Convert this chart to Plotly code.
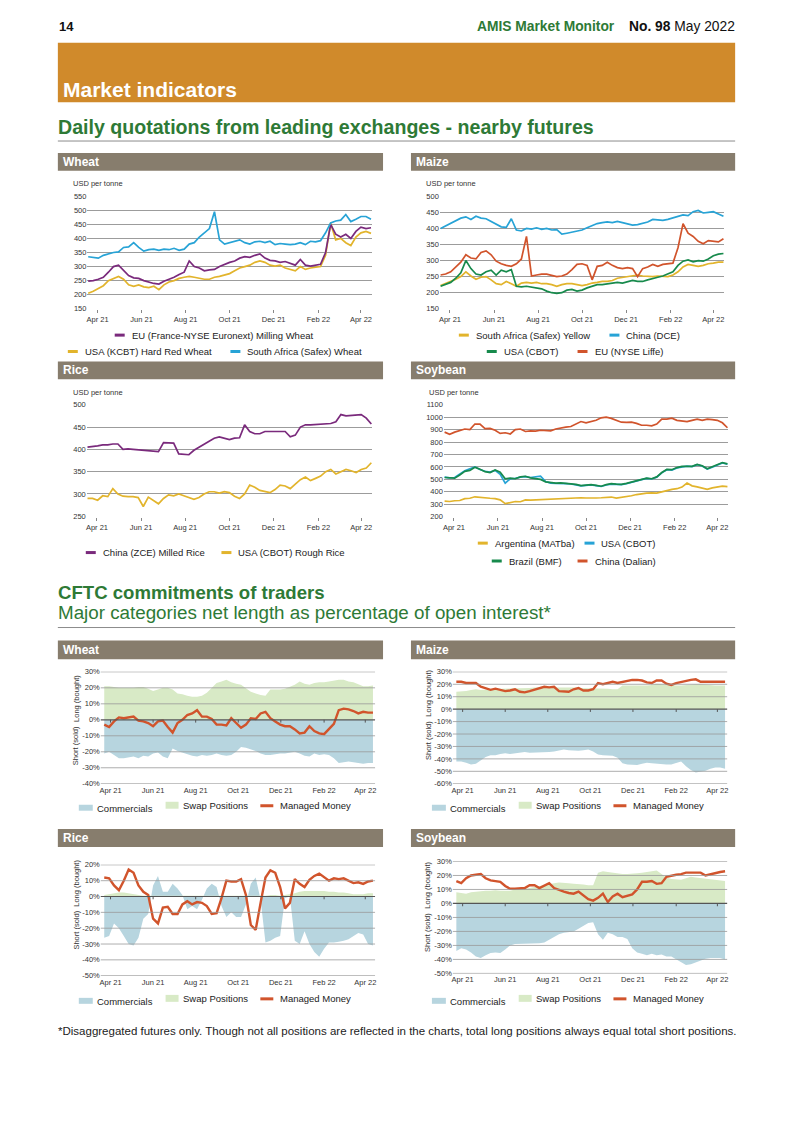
import plotly.graph_objects as go
import pandas as pd

W, H = 793, 1122
FONT = "Liberation Sans"


def fx(x):
    return x / W


def fy(y):
    return 1 - y / H


# ---------------- colours ----------------
PURPLE = "#7A2A7C"
GOLD = "#E2B42C"
BLUE = "#27A3D6"
GREEN = "#178A4C"
RED = "#D1542C"
COMM = "#B7D5DF"
SWAP = "#D8EAC6"
HDR = "#877D6D"
BAND = "#D08A2B"
TGREEN = "#2E7A36"

# ---------------- dates / ticks ----------------
daily_dates = pd.date_range("2021-04-02", periods=57, freq="7D")
cftc_dates = pd.date_range("2021-04-06", periods=56, freq="7D")
tick_dates = ["2021-04-15", "2021-06-15", "2021-08-15", "2021-10-15",
              "2021-12-15", "2022-02-15", "2022-04-15"]
tick_labels = ["Apr 21", "Jun 21", "Aug 21", "Oct 21", "Dec 21", "Feb 22", "Apr 22"]

# ---------------- daily quotations (USD per tonne, weekly readings) ----------------
wheat_eu = [248, 250, 255, 262, 280, 300, 305, 285, 268, 260, 258, 250, 245, 240, 238, 248, 255, 262, 272, 280,
            320, 300, 295, 285, 288, 290, 300, 308, 315, 320, 330, 335, 333, 340, 345, 330, 322, 320, 315, 318,
            312, 305, 325, 305, 302, 305, 308, 350, 450, 415, 405, 415, 400, 425, 440, 435, 438]
wheat_usa = [205, 212, 222, 232, 250, 258, 265, 255, 235, 230, 235, 228, 225, 230, 218, 235, 245, 250, 258, 262,
             265, 262, 258, 255, 255, 262, 265, 270, 275, 285, 295, 300, 305, 315, 320, 315, 305, 302, 305, 295,
             290, 285, 300, 290, 295, 298, 300, 340, 455, 395, 400, 385, 375, 405, 420, 425, 418]
wheat_saf = [335, 333, 330, 340, 345, 350, 352, 368, 370, 385, 368, 355, 360, 362, 358, 362, 360, 365, 358, 362,
             380, 385, 405, 420, 435, 495, 395, 380, 385, 390, 395, 385, 380, 388, 390, 385, 390, 378, 382, 380,
             378, 380, 385, 378, 390, 388, 392, 420, 455, 462, 465, 485, 460, 468, 478, 478, 468]

maize_saf = [222, 228, 235, 242, 250, 265, 252, 242, 248, 250, 240, 228, 225, 235, 228, 220, 230, 232, 230, 232,
             228, 228, 225, 220, 225, 228, 228, 225, 222, 225, 230, 232, 235, 235, 238, 245, 248, 250, 252, 255,
             252, 250, 250, 252, 250, 250, 255, 265, 280, 288, 285, 282, 285, 290, 292, 295, 295]
maize_dce = [400, 408, 418, 425, 432, 436, 428, 438, 432, 430, 422, 415, 405, 403, 430, 395, 392, 400, 398, 402,
             397, 400, 395, 396, 382, 385, 388, 390, 395, 402, 408, 415, 418, 420, 418, 422, 418, 415, 410, 412,
             415, 420, 428, 426, 425, 428, 432, 438, 442, 440, 452, 456, 448, 450, 452, 445, 438]
maize_usa = [220, 225, 232, 245, 262, 300, 275, 258, 255, 265, 270, 255, 270, 265, 272, 220, 218, 220, 218, 215,
             212, 205, 200, 198, 200, 208, 210, 205, 208, 215, 220, 225, 225, 228, 230, 232, 230, 235, 238, 235,
             235, 240, 245, 248, 252, 258, 265, 285, 298, 302, 296, 300, 298, 305, 315, 320, 322]
maize_eu = [255, 258, 265, 280, 295, 318, 308, 305, 325, 330, 318, 298, 290, 285, 282, 290, 305, 375, 252, 255,
            258, 258, 255, 250, 252, 258, 272, 288, 290, 285, 240, 282, 285, 295, 285, 278, 275, 278, 275, 250,
            275, 280, 288, 282, 288, 290, 292, 340, 415, 385, 375, 360, 352, 362, 360, 358, 368]

rice_zce = [405, 406, 408, 410, 410, 412, 412, 400, 401, 400, 399, 397, 396, 395, 395, 415, 415, 414, 390, 389,
            388, 398, 405, 412, 418, 425, 428, 425, 422, 425, 426, 455, 440, 435, 435, 440, 440, 441, 440, 440,
            428, 432, 450, 455, 455, 456, 457, 458, 458, 462, 478, 475, 476, 478, 478, 470, 457]
rice_usa = [290, 290, 286, 296, 294, 312, 300, 295, 294, 294, 292, 272, 293, 285, 278, 290, 298, 296, 300, 296,
            292, 288, 292, 300, 305, 305, 302, 305, 303, 295, 290, 300, 320, 315, 308, 305, 303, 310, 320, 318,
            312, 322, 332, 338, 330, 335, 340, 350, 355, 345, 350, 355, 352, 348, 355, 358, 370]

soy_arg = [325, 322, 328, 330, 345, 348, 360, 358, 350, 348, 345, 335, 305, 312, 322, 320, 335, 333, 335, 338,
           340, 342, 345, 345, 348, 348, 350, 352, 350, 348, 350, 352, 355, 358, 350, 355, 360, 368, 378, 385,
           390, 392, 390, 400, 412, 420, 425, 438, 470, 448, 440, 428, 420, 432, 438, 445, 442]
soy_usa = [518, 512, 515, 540, 570, 585, 600, 580, 565, 558, 572, 540, 470, 505, 508, 518, 522, 515, 522, 525,
           482, 470, 468, 470, 466, 463, 458, 448, 452, 455, 450, 443, 455, 462, 460, 458, 465, 478, 488, 498,
           508, 503, 518, 552, 578, 575, 592, 602, 606, 603, 618, 608, 583, 598, 612, 632, 622]
soy_bra = [515, 515, 510, 535, 565, 572, 598, 582, 562, 555, 575, 558, 505, 510, 505, 520, 525, 512, 505, 500,
           480, 472, 470, 472, 468, 465, 460, 450, 455, 458, 452, 445, 458, 465, 462, 460, 468, 480, 490, 500,
           510, 505, 520, 555, 580, 578, 595, 605, 608, 605, 620, 610, 585, 600, 615, 635, 625]
soy_chn = [880, 862, 880, 895, 905, 900, 945, 945, 908, 910, 895, 870, 875, 865, 900, 905, 885, 890, 888, 895,
           895, 890, 905, 915, 920, 925, 945, 965, 955, 965, 975, 995, 1000, 990, 975, 960, 958, 960, 950, 935,
           935, 930, 945, 985, 985, 992, 975, 970, 965, 975, 985, 975, 985, 980, 975, 955, 915]

# ---------------- CFTC net length (% of open interest, weekly) ----------------
wheat_comm = [-21, -20, -22, -24, -24, -23.5, -23, -24, -22.5, -23, -21, -20.5, -23, -24, -18, -19.5, -20.5, -21.5,
              -22.5, -23, -22, -22.5, -22, -21, -22, -22.5, -22, -20, -17, -17.5, -18.5, -19.5, -21, -22, -22,
              -21.5, -21, -21, -20.5, -20, -21, -22.5, -23, -21, -22, -21.5, -22, -24, -27, -26.5, -26, -26.5,
              -27, -27.5, -27, -27]
wheat_swap = [21, 21, 20.5, 20, 20, 20, 20, 20.5, 20.5, 19.5, 18, 19, 20, 20, 19, 16.5, 16, 15, 14.5, 14.5, 15, 17,
              20, 23, 24, 25, 23.5, 22.5, 22, 20, 17.5, 16.5, 15.5, 15, 19, 19, 19, 19.5, 20.5, 22, 24, 22.5, 22,
              23, 23.5, 23.5, 24, 24.5, 25, 25, 24, 23.5, 22, 21, 21, 21.5]
wheat_mm = [-3, -4.5, -1, 1.5, 1, 1.5, 2, -0.5, -1, -2, -4, -1, -0.5, -4.5, -8, -2, 0, 3, 4, 6, 2, 2, 0.5, -3, -3,
            -3.5, 1, -2, -5, -3, 1, 0.5, 4, 5, 1, -1, -3, -4, -4, -6, -8.5, -8, -4, -7, -8.5, -9, -5.5, -2.5, 6, 7,
            6.5, 5.5, 4, 5, 4.5, 4.5]

maize_comm = [-42, -42, -43, -44.5, -44, -41, -38.5, -37, -37, -36, -35.5, -36, -35.5, -35, -34.5, -35, -35, -35,
              -35, -34.5, -34, -33, -32.5, -33, -33.5, -33.5, -33, -32.5, -34, -36.5, -37, -37, -37.5, -39, -43.5,
              -44.5, -45, -45, -44, -43, -43.5, -44, -44, -44.5, -44.5, -43, -42, -46, -49, -51, -50.5, -49.5, -48,
              -47, -47, -48]
maize_swap = [14, 14, 14.5, 15.5, 16, 15.5, 15.5, 15.5, 16, 16.5, 16.5, 17, 16.5, 16.5, 17, 17, 17.5, 17.5, 18, 18,
              18, 18, 18, 17.5, 17.5, 17, 17, 17, 17, 16.5, 16.5, 16.5, 16, 16, 19, 19, 19, 18.5, 18.5, 19, 19.5,
              20.5, 20, 19.5, 19, 19, 19, 19.5, 20, 20, 20, 19.5, 19.5, 19, 19, 19]
maize_mm = [22, 22, 21, 21, 21, 18, 17, 15.5, 16.5, 15.5, 14.5, 15, 16, 14, 13.5, 14.5, 15.5, 16.5, 18, 17.5, 18,
            14.5, 14, 14, 16, 17, 15, 15, 16, 21, 20, 21, 22, 21, 22, 22.5, 23.5, 23.5, 23, 21.5, 21, 23, 23, 20.5,
            19.5, 21, 22, 23, 23.5, 24, 22, 22, 22, 22, 22, 22]

rice_comm = [-26, -25, -17, -20, -25, -30, -31, -26, -14, -11, 7, 13, 3, 3, 8, 5, 1, -8, -6, -8, -2, 5, 8, 6, -6,
             -13, -10, -13, -13, -5, 8, 12, -2, -29, -28, -26, -25, -1, 0, -28, -30, -22, -30, -35, -38, -33, -29,
             -29, -28.5, -28, -27, -25, -23, -24, -30, -31]
rice_swap = [1, 1.5, 2, 2.5, 2.5, 2, 1.5, 1, 0.5, 0.5,
             0.5, 0.5, 0.5, 0.5, 0.5, 0.5, 0.5, 0.5, 0.5, 0.5, 0.5, 0.5,
             0.5, 0.5, 0.5, 0.5, 0.5, 0.5, 0.5, 0.5, 0.5, 0.5, 0.5, 0.5,
             1, 1, 0.5, 1, 1.5, 2, 3, 3.5, 3.5, 3.5, 3.5, 3.5, 3, 3, 2.5, 2.5, 2, 1.5, 1.5, 1.5, 2, 2]
rice_mm = [12, 11.5, 7, 4, 10, 17, 15, 7, 3, 1, -14, -17, -7, -6.5, -11, -11, -5, -3, -5, -3.5, -4, -6, -11, -10.5,
           -1, 10, 9.5, 9.5, 11, 1, -18, -21, -4, 12, 16.5, 15, 6, -7.5, -4, 11, 8, 6, 10.5, 13, 14.5, 12, 10, 11.5,
           11, 11.5, 10, 8.5, 9, 8, 9.5, 10]

soy_comm = [-34, -32, -33, -35, -38, -39, -37, -35.5, -35, -35.5, -33, -30, -29, -29, -28.5, -29, -28.5, -28.5, -28,
            -26, -23.5, -22, -21, -20.5, -20, -18, -16, -14, -13.5, -22, -26, -21, -22, -24, -24, -25.5, -32, -35,
            -36, -37, -36, -37, -36.5, -38, -38, -40, -42.5, -44, -43.5, -42, -40.5, -39.5, -39, -39, -39, -40]
soy_swap = [8, 7.5, 7, 8, 8.5, 9, 9, 9, 9.5, 9, 9, 9, 10, 10, 10.5, 11, 12, 12.5, 13, 14, 14.5, 15, 15, 14.5, 14, 14,
            13.5, 13, 13, 22, 23, 22.5, 22, 21, 21, 21, 21, 21.5, 22, 22.5, 23, 23.5, 21, 18.5, 17.5, 17, 17, 18, 19,
            18.5, 18, 17.5, 17, 16.5, 16, 16]
soy_mm = [16, 14.5, 18, 20, 20.5, 21, 18, 16.5, 16, 15.5, 12.5, 10.5, 10.5, 11, 11, 13, 13, 11, 13, 14.5, 11, 9.5,
          8.5, 7.5, 7, 8.5, 5.5, 3, 2, 4, 7, 1, 5, 7, 4.5, 5.5, 6.5, 10, 15.5, 15.5, 16, 14, 14.5, 19, 20, 20.5, 21,
          22, 22, 22, 22, 20, 21, 22, 22.5, 23]

# ---------------- panel definitions (layout only) ----------------
daily_panels = [
    dict(title="Wheat", hdr=(57, 383, 150, 168), xd=(86.7, 371.7), yd=(193.3, 307.3), yr=(150, 550), dt=50,
         unit=(71, 181),
         series=[("USA (KCBT) Hard Red Wheat", wheat_usa, GOLD), ("EU (France-NYSE Euronext) Milling Wheat", wheat_eu, PURPLE),
                 ("South Africa (Safex) Wheat", wheat_saf, BLUE)],
         legend=[("EU (France-NYSE Euronext) Milling Wheat", PURPLE, 114, 333.5),
                 ("USA (KCBT) Hard Red Wheat", GOLD, 67, 350),
                 ("South Africa (Safex) Wheat", BLUE, 230, 350)]),
    dict(title="Maize", hdr=(411, 736, 150, 168), xd=(440, 725), yd=(193.3, 307.3), yr=(150, 500), dt=50,
         unit=(425, 181),
         series=[("South Africa (Safex) Yellow", maize_saf, GOLD), ("China (DCE)", maize_dce, BLUE),
                 ("USA (CBOT)", maize_usa, GREEN), ("EU (NYSE Liffe)", maize_eu, RED)],
         legend=[("South Africa (Safex) Yellow", GOLD, 459, 333.5), ("China (DCE)", BLUE, 610, 333.5),
                 ("USA (CBOT)", GREEN, 487, 350), ("EU (NYSE Liffe)", RED, 578, 350)]),
    dict(title="Rice", hdr=(57, 383, 360, 378), xd=(86, 372), yd=(403.3, 516.3), yr=(250, 500), dt=50,
         unit=(71, 391),
         series=[("China (ZCE) Milled Rice", rice_zce, PURPLE), ("USA (CBOT) Rough Rice", rice_usa, GOLD)],
         legend=[("China (ZCE) Milled Rice", PURPLE, 85, 552.5), ("USA (CBOT) Rough Rice", GOLD, 221, 552.5)]),
    dict(title="Soybean", hdr=(411, 736, 360, 378), xd=(444, 729), yd=(403.3, 516.7), yr=(200, 1100), dt=100,
         unit=(428, 391),
         series=[("Argentina (MATba)", soy_arg, GOLD), ("USA (CBOT)", soy_usa, BLUE),
                 ("Brazil (BMF)", soy_bra, GREEN), ("China (Dalian)", soy_chn, RED)],
         legend=[("Argentina (MATba)", GOLD, 478, 543), ("USA (CBOT)", BLUE, 585, 543),
                 ("Brazil (BMF)", GREEN, 492, 561), ("China (Dalian)", RED, 578, 561)]),
]

cftc_panels = [
    dict(title="Wheat", hdr=(57, 383, 641, 660), xd=(100, 375), yd=(672.3, 785.7), yr=(-40, 30),
         data=(wheat_comm, wheat_swap, wheat_mm), ylab_x=70, leg_y=808, leg_x=78),
    dict(title="Maize", hdr=(411, 736, 641, 660), xd=(453, 728), yd=(672.3, 785.7), yr=(-60, 30),
         data=(maize_comm, maize_swap, maize_mm), ylab_x=423, leg_y=808, leg_x=432),
    dict(title="Rice", hdr=(57, 383, 831, 849), xd=(100, 375), yd=(866.7, 979), yr=(-50, 20),
         data=(rice_comm, rice_swap, rice_mm), ylab_x=70, leg_y=1002.5, leg_x=78),
    dict(title="Soybean", hdr=(411, 736, 831, 849), xd=(453, 728), yd=(863.3, 976.7), yr=(-50, 30),
         data=(soy_comm, soy_swap, soy_mm), ylab_x=422, leg_y=1002.5, leg_x=432),
]

fig = go.Figure()
shapes = []
annotations = []
layout_axes = {}


def rect(x0, y0, x1, y1, color, layer="below"):
    shapes.append(dict(type="rect", xref="paper", yref="paper", x0=fx(x0), x1=fx(x1), y0=fy(y1), y1=fy(y0),
                       fillcolor=color, line=dict(width=0), layer=layer))


def hline(x0, x1, y, color, width):
    shapes.append(dict(type="line", xref="paper", yref="paper", x0=fx(x0), x1=fx(x1), y0=fy(y), y1=fy(y),
                       line=dict(color=color, width=width)))


def text(x, y, s, size, color="#222", bold=False, xanchor="left", angle=0):
    annotations.append(dict(x=fx(x), y=fy(y), xref="paper", yref="paper",
                            text=f"<b>{s}</b>" if bold else s, showarrow=False, xanchor=xanchor,
                            yanchor="middle", textangle=angle, borderpad=0,
                            font=dict(size=size, color=color, family=FONT)))


# ---------------- page furniture ----------------
text(57, 23, "14", 13, "#111", bold=True)
text(617, 23, "AMIS Market Monitor", 13.8, TGREEN, bold=True, xanchor="right")
text(737, 23, "<b>No. 98</b> May 2022", 13.8, "#111", xanchor="right")
rect(57, 39, 736, 99, BAND)
text(61, 86, "Market indicators", 21, "white", bold=True)
text(56, 124, "Daily quotations from leading exchanges - nearby futures", 19.6, TGREEN, bold=True)
hline(57, 736, 138, "#8c8c8c", 1)
text(56, 593, "CFTC commitments of traders", 18.6, TGREEN, bold=True)
text(56, 613, "Major categories net length as percentage of open interest*", 18.8, TGREEN)
hline(57, 736, 628, "#8c8c8c", 1)
text(56, 1034, "*Disaggregated futures only. Though not all positions are reflected in the charts, "
               "total long positions always equal total short positions.", 11.5, "#222")

ax = 0
# ---------------- daily charts ----------------
for p in daily_panels:
    ax += 1
    xa, ya = f"x{ax}", f"y{ax}"
    x0h, x1h, y0h, y1h = p["hdr"]
    rect(x0h, y0h, x1h, y1h, HDR)
    text(x0h + 4, (y0h + y1h) / 2, p["title"], 12, "white", bold=True)
    text(p["unit"][0], p["unit"][1], "USD per tonne", 7.5, "#333")
    for name, vals, col in p["series"]:
        fig.add_trace(go.Scatter(x=daily_dates, y=vals, mode="lines", name=name, xaxis=xa, yaxis=ya,
                                 line=dict(color=col, width=1.7), showlegend=False))
    lo, hi = p["yr"]
    span = hi - lo
    ticks = list(range(lo, hi + 1, p["dt"]))
    layout_axes[f"xaxis{ax}"] = dict(domain=[fx(p["xd"][0]), fx(p["xd"][1])], anchor=ya,
                                     range=["2021-04-01", "2022-04-30"], tickmode="array",
                                     tickvals=tick_dates, ticktext=tick_labels, ticks="outside", ticklen=3,
                                     tickcolor="#888", tickwidth=0.8, showgrid=False, zeroline=False,
                                     showline=False, tickfont=dict(size=7.5, color="#333", family=FONT))
    layout_axes[f"yaxis{ax}"] = dict(domain=[fy(p["yd"][1]), fy(p["yd"][0])], anchor=xa,
                                     range=[lo - span * 0.003, hi + span * 0.003], tickmode="array",
                                     tickvals=ticks, ticktext=[str(t) for t in ticks], showgrid=True,
                                     gridcolor="#9c9c9c", gridwidth=0.8, zeroline=False, showline=False,
                                     ticks="", tickfont=dict(size=7.5, color="#333", family=FONT))
    for name, col, sx, sy in p["legend"]:
        shapes.append(dict(type="line", xref="paper", yref="paper", x0=fx(sx), x1=fx(sx + 10),
                           y0=fy(sy), y1=fy(sy), line=dict(color=col, width=3)))
        text(sx + 16, sy, name, 9.5, "#222")

# ---------------- CFTC charts ----------------
for p in cftc_panels:
    ax += 1
    xa, ya = f"x{ax}", f"y{ax}"
    x0h, x1h, y0h, y1h = p["hdr"]
    rect(x0h, y0h, x1h, y1h, HDR)
    text(x0h + 4, (y0h + y1h) / 2, p["title"], 12, "white", bold=True)
    comm, swap, mm = p["data"]
    fig.add_trace(go.Scatter(x=cftc_dates, y=comm, mode="lines", fill="tozeroy", fillcolor=COMM,
                             line=dict(width=0, color=COMM), name="Commercials", xaxis=xa, yaxis=ya,
                             showlegend=False))
    fig.add_trace(go.Scatter(x=cftc_dates, y=swap, mode="lines", fill="tozeroy", fillcolor=SWAP,
                             line=dict(width=0, color=SWAP), name="Swap Positions", xaxis=xa, yaxis=ya,
                             showlegend=False))
    fig.add_trace(go.Scatter(x=cftc_dates, y=mm, mode="lines", line=dict(color=RED, width=2.4),
                             name="Managed Money", xaxis=xa, yaxis=ya, showlegend=False))
    lo, hi = p["yr"]
    span = hi - lo
    ticks = list(range(lo, hi + 1, 10))
    layout_axes[f"xaxis{ax}"] = dict(domain=[fx(p["xd"][0]), fx(p["xd"][1])], anchor=ya,
                                     range=["2021-04-01", "2022-04-29"], tickmode="array",
                                     tickvals=tick_dates, ticktext=tick_labels, ticks="", showgrid=False,
                                     zeroline=False, showline=False,
                                     tickfont=dict(size=7.5, color="#333", family=FONT))
    layout_axes[f"yaxis{ax}"] = dict(domain=[fy(p["yd"][1]), fy(p["yd"][0])], anchor=xa,
                                     range=[lo - span * 0.003, hi + span * 0.003], tickmode="array",
                                     tickvals=ticks, ticktext=[f"{t}%" for t in ticks], showgrid=False,
                                     zeroline=False, showline=False, ticks="",
                                     tickfont=dict(size=7.5, color="#333", family=FONT))
    # gridlines drawn above the areas, as in the original
    for t in ticks:
        shapes.append(dict(type="line", xref=f"{xa} domain", yref=ya, x0=0, x1=1, y0=t, y1=t,
                           line=dict(color="#555" if t == 0 else "#999", width=1.2 if t == 0 else 0.8),
                           layer="above"))
    # tick marks on the zero line
    for d in tick_dates:
        shapes.append(dict(type="line", xref=xa, yref=ya, x0=d, x1=d, y0=0, y1=-span * 0.025,
                           line=dict(color="#555", width=1), layer="above"))
    # y axis titles
    ytop, ybot = p["yd"]
    zero_px = ytop + (hi - 0) / span * (ybot - ytop)
    text(p["ylab_x"], (ytop + zero_px) / 2 + 3, "Long (bought)", 7.5, "#333", angle=-90)
    text(p["ylab_x"], (zero_px + ybot) / 2 - 6, "Short (sold)", 7.5, "#333", angle=-90)
    # legend
    lx, ly = p["leg_x"], p["leg_y"]
    rect(lx, ly - 1.5, lx + 14, ly + 4.5, COMM, layer="above")
    text(lx + 17, ly + 2, "Commercials", 9.5, "#222")
    rect(lx + 87, ly - 4.5, lx + 100, ly + 2.5, SWAP, layer="above")
    text(lx + 103, ly - 0.5, "Swap Positions", 9.5, "#222")
    shapes.append(dict(type="line", xref="paper", yref="paper", x0=fx(lx + 182), x1=fx(lx + 195),
                       y0=fy(ly - 0.5), y1=fy(ly - 0.5), line=dict(color=RED, width=3)))
    text(lx + 201, ly - 0.5, "Managed Money", 9.5, "#222")

fig.update_layout(width=W, height=H, margin=dict(l=0, r=0, t=0, b=0), paper_bgcolor="white",
                  plot_bgcolor="white", showlegend=False, shapes=shapes, annotations=annotations,
                  font=dict(family=FONT, color="#222"), **layout_axes)

fig.write_html("out.html", config={"displayModeBar": False},
               post_script="document.body.style.margin='0px';document.body.style.padding='0px';")
